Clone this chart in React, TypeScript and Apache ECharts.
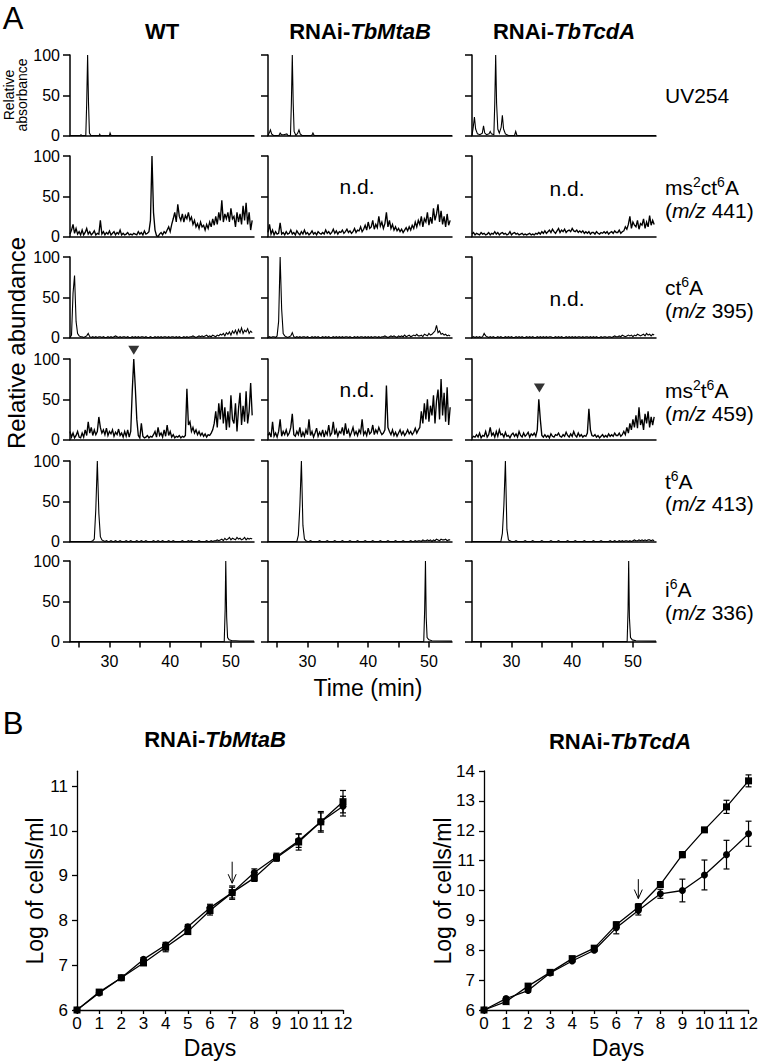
import React, { useEffect, useRef } from "react";
import * as echarts from "echarts";

const FONT = "Liberation Sans, Arial, Helvetica, sans-serif";

// ---------------- Panel A data ----------------
const T0 = 23.5; // first sample time of dense traces (min)
const DT = 0.25; // sampling step of dense traces (min)
const TIME_MIN = 23.5;
const TIME_MAX = 53.8;
const TIME_TICKS = [25, 30, 35, 40, 45, 50];
const TIME_LABELS = [30, 40, 50];

const COLUMN_TITLES = ["WT", "RNAi-{it|TbMtaB}", "RNAi-{it|TbTcdA}"];
const ROW_LABELS = [
  ["UV254"],
  ["ms{s|2}ct{s|6}A", "({i|m/z} 441)"],
  ["ct{s|6}A", "({i|m/z} 395)"],
  ["ms{s|2}t{s|6}A", "({i|m/z} 459)"],
  ["t{s|6}A", "({i|m/z} 413)"],
  ["i{s|6}A", "({i|m/z} 336)"],
];

// UV254 traces: [time, relative absorbance]
const UV_WT = [[23.5,0],[25.2,0],[25.3,1],[25.45,0],[26.1,0],[26.25,40],[26.4,100],[26.55,40],[26.7,3],[26.95,0],[28.3,0],[28.4,1.5],[28.5,0],[30.0,0],[30.1,3],[30.25,0],[53.8,0]];
const UV_MTAB = [[23.5,0],[23.8,5],[23.9,7],[24.1,2],[24.4,0],[25.3,0],[25.5,3],[25.7,1],[26.1,1],[26.6,2],[26.8,0],[27.2,0],[27.35,40],[27.5,100],[27.65,40],[27.8,5],[28.1,0],[28.4,3],[28.6,7],[28.8,2],[29.1,0],[30.7,0],[30.9,3],[31.1,0],[53.8,0]];
const UV_TCDA = [[23.5,0],[23.7,10],[23.9,23],[24.1,8],[24.4,2],[24.8,1],[25.2,3],[25.4,12],[25.6,3],[25.9,1],[26.3,2],[26.5,5],[26.7,2],[27.1,1],[27.25,40],[27.4,100],[27.55,40],[27.75,8],[28.0,3],[28.3,10],[28.5,25],[28.7,8],[29.0,2],[29.5,0],[30.5,0],[30.7,5],[30.9,0],[53.8,0]];

// Dense traces, sampled every DT from T0 (121 values)
const MS441_WT = [
  3,8,15,4, 10,3,6,2,
  8,2,5,10, 3,6,2,4,
  7,2,4,3, 20,3,6,2,
  5,3,7,2, 4,6,2,5,
  3,8,2,4, 2,3,5,2,
  3,2,4,3, 2,6,3,5,
  2,7,3,4, 6,20,100,30,
  8,1,0,3, 5,2,6,4,
  8,12,6,15, 22,30,18,40,
  25,20,28,18, 26,22,30,20,
  24,15,20,12, 16,10,18,12,
  14,8,15,10, 18,12,22,14,
  25,15,30,20, 45,18,28,22,
  30,18,35,22, 25,12,30,18,
  28,15,38,20, 42,15,30,8,
  20];
const MS441_MTAB = [
  5,15,3,8, 2,6,3,4,
  17,3,5,2, 6,3,4,8,
  3,5,2,7, 4,2,6,3,
  8,3,5,2, 4,7,3,5,
  2,6,4,3, 5,3,8,4,
  6,3,5,9, 4,7,3,6,
  5,8,4,6, 9,5,7,4,
  6,10,5,8, 7,12,6,9,
  14,8,18,10, 12,20,9,15,
  11,25,13,18, 10,16,30,12,
  20,10,15,8, 12,7,10,6,
  9,5,8,11, 7,12,8,14,
  10,18,12,20, 15,25,12,22,
  18,30,14,24, 16,35,20,28,
  40,18,32,15, 25,12,28,14,
  20];
const MS441_TCDA = [
  3,5,2,4, 3,2,5,3,
  4,2,3,5, 2,4,3,6,
  3,5,2,4, 5,3,4,2,
  3,6,2,4, 5,3,4,2,
  3,4,2,3, 2,3,4,2,
  3,2,4,3, 5,3,6,4,
  7,4,6,8, 5,9,6,4,
  7,10,5,8, 6,9,5,7,
  8,6,10,7, 6,8,5,7,
  5,7,4,6, 4,6,3,5,
  5,3,6,4, 3,5,4,6,
  4,6,3,5, 6,4,7,5,
  5,8,4,6, 7,12,9,15,
  25,10,18,14, 12,20,9,16,
  14,22,10,18, 12,26,14,20,
  15];
const MS395_WT = [
  0,3,55,77, 20,5,2,1,
  1,0,1,2, 5,1,0,1,
  0,1,0,1, 1,0,1,0,
  0,1,0,1, 0,1,2,1,
  0,1,0,1, 1,0,1,0,
  0,1,0,1, 0,1,0,1,
  1,0,1,0, 0,1,0,0,
  1,0,1,0, 1,0,1,1,
  0,1,0,1, 1,0,1,0,
  1,0,0,1, 0,1,0,1,
  1,2,1,0, 1,2,1,2,
  1,2,3,1, 2,1,3,2,
  1,3,2,4, 3,5,2,6,
  4,7,3,8, 5,9,4,10,
  6,12,5,9, 7,11,5,8,
  6];
const MS395_MTAB = [
  0,1,0,1, 1,0,2,20,
  100,35,5,2, 1,0,1,2,
  6,1,0,1, 0,1,0,1,
  1,0,1,0, 0,1,0,1,
  0,1,0,0, 1,0,1,0,
  1,0,0,1, 0,1,0,1,
  0,1,0,1, 1,0,1,0,
  0,1,0,1, 0,1,1,0,
  1,0,1,0, 1,0,1,1,
  0,1,0,1, 1,2,1,0,
  1,2,1,2, 1,0,2,1,
  2,1,3,1, 2,3,1,2,
  3,2,4,2, 2,3,1,4,
  3,2,5,3, 4,6,8,15,
  6,8,4,5, 3,4,2,3,
  2];
const MS395_TCDA = [
  0,1,0,1, 0,1,0,1,
  5,2,1,0, 1,0,1,0,
  0,1,0,1, 0,0,1,0,
  1,0,1,0, 0,1,0,1,
  0,1,0,0, 1,0,1,0,
  1,0,0,1, 0,1,0,1,
  0,1,0,1, 1,0,0,1,
  0,1,0,1, 0,0,1,0,
  1,0,1,0, 1,0,1,1,
  0,1,0,1, 1,0,1,0,
  1,0,1,0, 0,1,0,1,
  1,0,1,1, 0,1,2,1,
  1,2,1,3, 2,1,2,3,
  2,3,1,3, 2,4,3,2,
  3,4,2,5, 3,4,2,4,
  3];
const MS459_WT = [
  10,3,8,2, 5,10,3,2,
  8,3,12,5, 22,8,15,5,
  12,6,10,28, 15,8,12,6,
  14,5,10,7, 12,4,9,6,
  13,5,8,3, 10,4,12,3,
  10,60,100,65, 25,5,2,20,
  4,2,3,5, 2,4,3,6,
  10,3,15,5, 8,3,12,4,
  18,5,10,3, 6,2,4,3,
  5,2,4,3, 5,63,18,22,
  10,15,8,12, 6,10,5,8,
  4,7,3,6, 5,8,12,20,
  35,15,45,25, 50,20,40,12,
  35,15,55,25, 20,45,10,38,
  58,18,42,22, 60,20,35,70,
  30];
const MS459_MTAB = [
  5,8,3,22, 4,8,3,10,
  25,4,10,6, 12,5,8,15,
  32,6,4,10, 6,15,3,9,
  4,12,6,25, 5,10,3,8,
  14,4,9,5, 12,3,10,6,
  18,5,8,22, 6,12,4,10,
  8,15,5,20, 7,12,4,9,
  15,6,10,5, 12,8,25,6,
  10,5,14,7, 9,18,6,12,
  8,15,10,6, 8,12,67,15,
  10,6,12,5, 9,4,8,12,
  6,10,5,8, 12,7,10,6,
  9,14,8,12, 15,35,20,45,
  25,50,22,42, 30,55,20,48,
  62,25,75,30, 58,22,65,18,
  40];
const MS459_TCDA = [
  2,4,3,6, 3,8,2,5,
  4,10,3,6, 15,5,8,3,
  10,4,12,6, 7,3,9,4,
  5,2,6,8, 4,7,3,10,
  5,3,8,4, 6,9,3,7,
  5,8,4,12, 50,25,5,3,
  6,3,5,2, 7,4,3,6,
  5,8,4,3, 6,4,9,5,
  3,7,4,10, 5,3,8,4,
  6,3,5,4, 8,38,12,5,
  4,6,3,5, 2,4,6,3,
  5,3,7,4, 6,4,8,5,
  5,8,4,6, 10,6,15,8,
  20,12,25,15, 30,14,40,18,
  25,12,32,20, 35,15,28,18,
  28];
const MS413_WT = [
  0,0,0,0, 0,0,0,0,
  0,0,0,0, 0,0,0,1,
  3,40,100,35, 6,2,1,0,
  1,0,0,1, 0,0,1,0,
  0,1,0,0, 0,1,0,0,
  1,0,0,0, 1,0,0,1,
  0,0,1,0, 0,0,0,1,
  0,0,1,0, 0,1,0,0,
  0,1,0,0, 1,0,0,0,
  0,0,1,0, 0,0,1,0,
  1,0,0,0, 0,1,0,0,
  0,0,1,0, 0,1,0,1,
  1,2,1,2, 3,1,4,2,
  3,5,2,4, 3,2,5,3,
  4,2,3,5, 2,4,3,4,
  3];
const MS413_MTAB = [
  0,0,0,0, 0,0,0,0,
  0,0,0,0, 0,0,0,0,
  0,0,0,0, 8,45,100,20,
  3,1,0,0, 1,0,0,0,
  0,0,1,0, 0,0,0,1,
  0,0,0,0, 1,0,0,0,
  0,1,0,0, 0,0,1,0,
  0,0,0,1, 0,0,0,0,
  1,0,0,0, 0,1,0,0,
  0,0,1,0, 0,0,0,1,
  0,0,0,0, 1,0,0,0,
  0,1,0,0, 0,0,1,0,
  0,1,0,1, 1,0,2,1,
  1,2,1,2, 0,2,1,3,
  2,1,3,2, 2,3,1,2,
  2];
const MS413_TCDA = [
  0,0,0,0, 0,0,0,0,
  0,0,0,0, 0,0,0,0,
  0,0,0,0, 10,45,100,15,
  2,1,0,0, 0,1,0,0,
  0,0,0,1, 0,0,0,0,
  1,0,0,0, 0,0,1,0,
  0,0,0,0, 1,0,0,0,
  0,1,0,0, 0,0,0,1,
  0,0,0,0, 1,0,0,0,
  0,0,1,0, 0,0,0,0,
  1,0,0,0, 0,1,0,0,
  0,0,0,1, 0,0,1,0,
  0,1,0,1, 0,1,1,0,
  1,0,1,2, 1,1,2,1,
  2,1,2,1, 2,2,1,2,
  1];

// i6A traces: [time, relative abundance]
const MS336_WT = [[23.5,0],[48.9,0],[49.05,40],[49.15,100],[49.3,30],[49.45,5],[49.7,2],[50.2,1],[50.8,1],[51.5,0.5],[53.8,0.5]];
const MS336_MTAB = [[23.5,0],[49.15,0],[49.3,40],[49.43,100],[49.55,30],[49.7,5],[50.0,2],[50.5,1],[53.8,0.5]];
const MS336_TCDA = [[23.5,0],[49.05,0],[49.2,40],[49.3,100],[49.42,30],[49.6,5],[49.9,2],[50.5,1],[53.8,0.5]];

// not detected cells [row, col]
const ND_CELLS = [[1, 1], [1, 2], [2, 2], [3, 1]];
// highlighted peaks (row, col, time, height)
const PEAK_MARKS = [[3, 0, 34.0, 111], [3, 2, 34.6, 64]];
// rows with dense noise drawn slightly heavier
const NOISY_ROWS = [1, 3];

// ---------------- Panel B data ----------------
const DAYS = [0, 1, 2, 3, 4, 5, 6, 7, 8, 9, 10, 11, 12];
const MTAB_SQ = [6.0, 6.4, 6.72, 7.05, 7.4, 7.75, 8.22, 8.62, 8.95, 9.4, 9.75, 10.2, 10.65];
const MTAB_SQ_ERR = [0.03, 0.03, 0.03, 0.05, 0.1, 0.05, 0.1, 0.12, 0.08, 0.08, 0.18, 0.23, 0.25];
const MTAB_CI = [6.0, 6.38, 6.72, 7.13, 7.45, 7.86, 8.28, 8.62, 9.07, 9.42, 9.78, 10.2, 10.55];
const MTAB_CI_ERR = [0.03, 0.03, 0.03, 0.04, 0.06, 0.05, 0.08, 0.15, 0.08, 0.08, 0.15, 0.2, 0.22];
const TCDA_SQ = [6.0, 6.28, 6.8, 7.26, 7.72, 8.07, 8.85, 9.44, 10.2, 11.2, 12.03, 12.8, 13.67];
const TCDA_SQ_ERR = [0.03, 0.05, 0.05, 0.05, 0.05, 0.05, 0.08, 0.12, 0.08, 0.1, 0.06, 0.22, 0.2];
const TCDA_CI = [6.0, 6.38, 6.65, 7.24, 7.64, 8.0, 8.75, 9.33, 9.89, 10.0, 10.52, 11.2, 11.9];
const TCDA_CI_ERR = [0.03, 0.05, 0.05, 0.05, 0.05, 0.05, 0.2, 0.15, 0.15, 0.38, 0.5, 0.48, 0.42];
const MTAB_ARROW = [7, 9.31, 8.83];
const TCDA_ARROW = [7, 10.38, 9.73];
const MTAB_Y_TICKS = [6, 7, 8, 9, 10, 11];

// ---------------- layout ----------------
const COL_LEFT = [70, 268, 472];
const COL_W = 184;
const ROW_TOP = [55, 156, 257, 359, 461, 561];
const ROW_H = 80.5;
const COL_CENTER = [162, 360, 564];
const ROW_LABEL_Y = [[95], [187, 210], [287, 310], [390, 413], [481, 503], [589, 612]];
const ND_POS = [[357, 186], [567, 188], [567, 298], [357, 389]];

const toPairs = (vals: number[]) => vals.map((v, i) => [T0 + i * DT, v]);

const TRACES: number[][][][] = [
  [UV_WT, UV_MTAB, UV_TCDA],
  [toPairs(MS441_WT), toPairs(MS441_MTAB), toPairs(MS441_TCDA)],
  [toPairs(MS395_WT), toPairs(MS395_MTAB), toPairs(MS395_TCDA)],
  [toPairs(MS459_WT), toPairs(MS459_MTAB), toPairs(MS459_TCDA)],
  [toPairs(MS413_WT), toPairs(MS413_MTAB), toPairs(MS413_TCDA)],
  [MS336_WT, MS336_MTAB, MS336_TCDA],
];

const richBase = (size: number) => ({
  s: { fontSize: Math.round(size * 0.68), fontFamily: FONT, verticalAlign: "top", lineHeight: Math.round(size * 0.6), fill: "#000" },
  i: { fontSize: size, fontFamily: FONT, fontStyle: "italic", fill: "#000" },
  it: { fontSize: size, fontFamily: FONT, fontStyle: "italic", fontWeight: "bold", fill: "#000" },
});

function buildOption() {
  const grid: any[] = [];
  const xAxis: any[] = [];
  const yAxis: any[] = [];
  const series: any[] = [];
  const graphic: any[] = [];

  for (let r = 0; r < 6; r++) {
    for (let c = 0; c < 3; c++) {
      const g = grid.length;
      grid.push({ left: COL_LEFT[c], top: ROW_TOP[r], width: COL_W, height: ROW_H });
      xAxis.push({
        gridIndex: g, type: "value", min: TIME_MIN, max: TIME_MAX,
        axisLine: { show: true, onZero: false, lineStyle: { color: "#000", width: 1.5 } },
        axisTick: r === 5 ? { show: true, customValues: TIME_TICKS, length: 6, lineStyle: { color: "#000", width: 1.5 } } : { show: false },
        axisLabel: r === 5 ? { show: true, customValues: TIME_LABELS, color: "#000", fontSize: 16, fontFamily: FONT, margin: 12 } : { show: false },
        splitLine: { show: false },
      });
      yAxis.push({
        gridIndex: g, type: "value", min: 0, max: 100, interval: 50,
        axisLine: { show: true, lineStyle: { color: "#000", width: 1.5 } },
        axisTick: { show: true, length: 7, lineStyle: { color: "#000", width: 1.5 } },
        axisLabel: c === 0 ? { show: true, color: "#000", fontSize: 16, fontFamily: FONT, margin: 10 } : { show: false },
        splitLine: { show: false },
      });
      series.push({
        type: "line", xAxisIndex: g, yAxisIndex: g, data: TRACES[r][c],
        showSymbol: false, symbol: "none", silent: true,
        lineStyle: { color: "#000", width: NOISY_ROWS.includes(r) ? 1.35 : 1.1, join: "miter" },
      });
    }
  }

  PEAK_MARKS.forEach(([r, c, t, h]) => {
    const g = r * 3 + c;
    series.push({
      type: "scatter", xAxisIndex: g, yAxisIndex: g, data: [[t, h]], clip: false,
      symbol: "triangle", symbolRotate: 180, symbolSize: [11, 9],
      itemStyle: { color: "#000" }, silent: true,
    });
  });

  // Panel B grids
  const bDefs = [
    { left: 77, width: 266, max: 11.33, unit: 44.8, sq: MTAB_SQ, sqErr: MTAB_SQ_ERR, ci: MTAB_CI, ciErr: MTAB_CI_ERR, arrow: MTAB_ARROW },
    { left: 484, width: 267, max: 14, unit: 29.875, sq: TCDA_SQ, sqErr: TCDA_SQ_ERR, ci: TCDA_CI, ciErr: TCDA_CI_ERR, arrow: TCDA_ARROW },
  ];
  bDefs.forEach((d, k) => {
    const g = grid.length;
    const h = (d.max - 6) * d.unit;
    grid.push({ left: d.left, top: 1010 - h, width: d.width, height: h });
    xAxis.push({
      gridIndex: g, type: "value", min: 0, max: 12, interval: 1,
      axisLine: { show: true, onZero: false, lineStyle: { color: "#000", width: 1.3 } },
      axisTick: { show: true, length: 4, lineStyle: { color: "#000", width: 1.3 } },
      axisLabel: { show: true, color: "#000", fontSize: 17, fontFamily: FONT, margin: 5 },
      splitLine: { show: false },
    });
    yAxis.push(k === 0 ? {
      gridIndex: g, type: "value", min: 6, max: d.max,
      axisLine: { show: true, lineStyle: { color: "#000", width: 1.3 } },
      axisTick: { show: true, customValues: MTAB_Y_TICKS, length: 5, lineStyle: { color: "#000", width: 1.3 } },
      axisLabel: { show: true, customValues: MTAB_Y_TICKS, color: "#000", fontSize: 17, fontFamily: FONT, margin: 9 },
      splitLine: { show: false },
    } : {
      gridIndex: g, type: "value", min: 6, max: d.max, interval: 1,
      axisLine: { show: true, lineStyle: { color: "#000", width: 1.3 } },
      axisTick: { show: true, length: 5, lineStyle: { color: "#000", width: 1.3 } },
      axisLabel: { show: true, color: "#000", fontSize: 17, fontFamily: FONT, margin: 9 },
      splitLine: { show: false },
    });
    const errSeries = (vals: number[], errs: number[]) => ({
      type: "custom", xAxisIndex: g, yAxisIndex: g, silent: true, clip: false,
      data: DAYS.map((day, i) => [day, vals[i] - errs[i], vals[i] + errs[i]]),
      encode: { x: 0, y: [1, 2] },
      renderItem: (_p: any, api: any) => {
        const x = api.value(0);
        const a = api.coord([x, api.value(2)]);
        const b = api.coord([x, api.value(1)]);
        const w = 3;
        const st = { stroke: "#000", lineWidth: 1.2 };
        return {
          type: "group", children: [
            { type: "line", shape: { x1: a[0], y1: a[1], x2: b[0], y2: b[1] }, style: st },
            { type: "line", shape: { x1: a[0] - w, y1: a[1], x2: a[0] + w, y2: a[1] }, style: st },
            { type: "line", shape: { x1: b[0] - w, y1: b[1], x2: b[0] + w, y2: b[1] }, style: st },
          ],
        };
      },
    });
    series.push(errSeries(d.sq, d.sqErr));
    series.push(errSeries(d.ci, d.ciErr));
    series.push({
      type: "line", xAxisIndex: g, yAxisIndex: g, data: DAYS.map((day, i) => [day, d.sq[i]]),
      symbol: "rect", symbolSize: 7, showSymbol: true, silent: true,
      lineStyle: { color: "#000", width: 1.3 }, itemStyle: { color: "#000" },
    });
    series.push({
      type: "line", xAxisIndex: g, yAxisIndex: g, data: DAYS.map((day, i) => [day, d.ci[i]]),
      symbol: "circle", symbolSize: 7, showSymbol: true, silent: true,
      lineStyle: { color: "#000", width: 1.3 }, itemStyle: { color: "#000" },
    });
    series.push({
      type: "custom", xAxisIndex: g, yAxisIndex: g, silent: true, clip: false,
      data: [d.arrow], encode: { x: 0, y: [1, 2] },
      renderItem: (_p: any, api: any) => {
        const x = api.value(0);
        const a = api.coord([x, api.value(1)]);
        const b = api.coord([x, api.value(2)]);
        const st = { stroke: "#000", lineWidth: 1, fill: "none" };
        return {
          type: "group", children: [
            { type: "line", shape: { x1: a[0], y1: a[1], x2: b[0], y2: b[1] }, style: st },
            { type: "polyline", shape: { points: [[b[0] - 4, b[1] - 9], [b[0], b[1]], [b[0] + 4, b[1] - 9]] }, style: st },
          ],
        };
      },
    });
  });

  // ---------- texts ----------
  const txt = (x: number, y: number, text: string, size: number, extra: any = {}) => ({
    type: "text", x, y, silent: true,
    style: {
      text, fontSize: size, fontFamily: FONT, fill: "#000",
      align: "center", verticalAlign: "middle", rich: richBase(size), ...extra,
    },
  });
  graphic.push(txt(13, 18, "A", 31));
  graphic.push(txt(13, 723, "B", 31));
  COLUMN_TITLES.forEach((t, c) => graphic.push(txt(COL_CENTER[c], 31, t, 22, { fontWeight: "bold" })));
  ROW_LABELS.forEach((lines, r) => {
    lines.forEach((l, j) => graphic.push(txt(665, ROW_LABEL_Y[r][j], l, 21, { align: "left", lineHeight: 24 })));
  });
  ND_CELLS.forEach((_cell, k) => graphic.push(txt(ND_POS[k][0], ND_POS[k][1], "n.d.", 21)));
  graphic.push({ ...txt(15, 95, "Relative\nabsorbance", 14, { lineHeight: 13 }), rotation: Math.PI / 2 });
  graphic.push({ ...txt(16, 343, "Relative abundance", 24), rotation: Math.PI / 2 });
  graphic.push(txt(368, 688, "Time (min)", 23));
  graphic.push(txt(215, 739, "RNAi-{it|TbMtaB}", 22, { fontWeight: "bold" }));
  graphic.push(txt(620, 741, "RNAi-{it|TbTcdA}", 22, { fontWeight: "bold" }));
  graphic.push({ ...txt(35, 891, "Log of cells/ml", 23), rotation: Math.PI / 2 });
  graphic.push({ ...txt(443, 891, "Log of cells/ml", 23), rotation: Math.PI / 2 });
  graphic.push(txt(210, 1048, "Days", 23));
  graphic.push(txt(618, 1048, "Days", 23));

  return {
    animation: false,
    backgroundColor: "#fff",
    grid, xAxis, yAxis, series, graphic,
  };
}

export default function App() {
  const ref = useRef<HTMLDivElement>(null);
  useEffect(() => {
    if (!ref.current) return;
    const chart = echarts.init(ref.current, undefined, { renderer: "svg" });
    chart.setOption(buildOption() as any);
    return () => chart.dispose();
  }, []);
  return (
    <div
      ref={ref}
      style={{ position: "fixed", left: 0, top: 0, width: 761, height: 1061, background: "#fff" }}
    />
  );
}
